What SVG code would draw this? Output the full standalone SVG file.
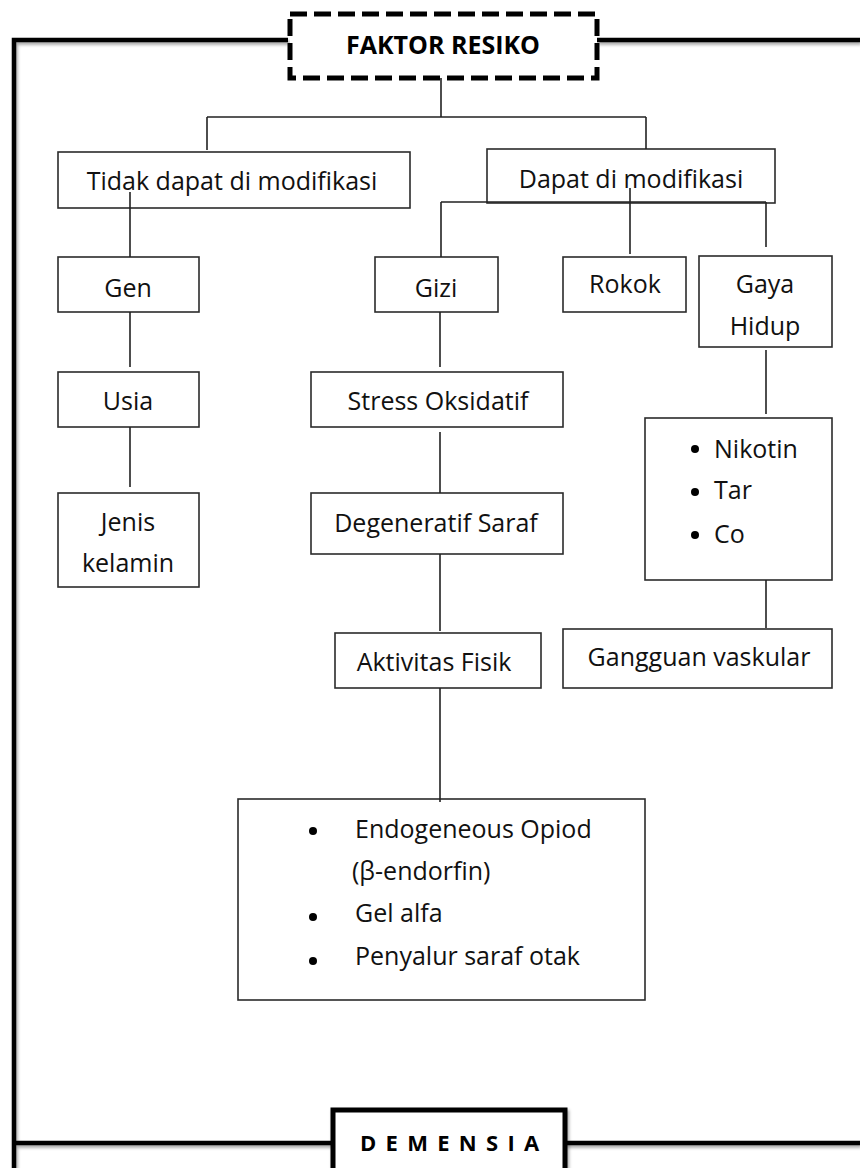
<svg xmlns="http://www.w3.org/2000/svg" width="860" height="1168" viewBox="0 0 860 1168">
<defs>
<style>
.box{fill:#fff;stroke:#2b2b2b;stroke-width:1.6}
.t{font-family:"Open Sans","Liberation Sans",sans-serif;font-size:25px;fill:#111}
.m{text-anchor:middle}
.c{stroke:#222;stroke-width:1.6;fill:none}
.frame{stroke:#000;stroke-width:4.5;fill:none}
.b{font-family:"Open Sans","Liberation Sans",sans-serif;font-weight:bold;fill:#000}
</style>
<filter id="sh" x="-5%" y="-5%" width="110%" height="110%">
<feDropShadow dx="1.5" dy="2.5" stdDeviation="1.8" flood-color="#000" flood-opacity="0.35"/>
</filter>
</defs>
<rect width="860" height="1168" fill="#fff"/>

<g id="frame" filter="url(#sh)">
<path class="frame" d="M860 40 L597 40 M288 40 L14 40 L14 1168 M14 1143 L333 1143 M565 1143 L860 1143"/>
</g>

<g id="faktor-resiko">
<rect x="290" y="14" width="307" height="64" fill="#fff" stroke="#000" stroke-width="5" stroke-dasharray="17 7"/>
<text class="b" x="443" y="54" font-size="25" text-anchor="middle">FAKTOR RESIKO</text>
</g>

<g id="demensia">
<rect x="333" y="1110" width="232" height="80" fill="#fff" stroke="#000" stroke-width="5" filter="url(#sh)"/>
<text class="b" x="360" y="1151" font-size="22" letter-spacing="9.3">DEMENSIA</text>
</g>

<g id="tidak-dapat">
<rect class="box" x="58" y="152" width="352" height="56"/>
<text class="t m" x="232" y="190">Tidak dapat di modifikasi</text>
</g>
<g id="dapat">
<rect class="box" x="487" y="149" width="288" height="54"/>
<text class="t m" x="631" y="188">Dapat di modifikasi</text>
</g>

<g id="gen">
<rect class="box" x="58" y="257" width="141" height="55"/>
<text class="t m" x="128" y="297">Gen</text>
</g>
<g id="usia">
<rect class="box" x="58" y="372" width="141" height="55"/>
<text class="t m" x="128" y="410">Usia</text>
</g>
<g id="jenis-kelamin">
<rect class="box" x="58" y="493" width="141" height="94"/>
<text class="t m" x="128" y="531">Jenis</text>
<text class="t m" x="128" y="572">kelamin</text>
</g>

<g id="gizi">
<rect class="box" x="375" y="257" width="123" height="55"/>
<text class="t m" x="436" y="297">Gizi</text>
</g>
<g id="stress">
<rect class="box" x="311" y="372" width="252" height="55"/>
<text class="t m" x="438" y="410">Stress Oksidatif</text>
</g>
<g id="degeneratif">
<rect class="box" x="311" y="493" width="252" height="61"/>
<text class="t m" x="436" y="532">Degeneratif Saraf</text>
</g>
<g id="aktivitas">
<rect class="box" x="335" y="633" width="206" height="55"/>
<text class="t m" x="434" y="671">Aktivitas Fisik</text>
</g>
<g id="endogeneous">
<rect class="box" x="238" y="799" width="407" height="201"/>
<circle cx="313" cy="831" r="4" fill="#000"/>
<text class="t" x="355" y="838">Endogeneous Opiod</text>
<text class="t" x="352" y="880">(β-endorfin)</text>
<circle cx="313" cy="917" r="4" fill="#000"/>
<text class="t" x="355" y="922">Gel alfa</text>
<circle cx="313" cy="961" r="4" fill="#000"/>
<text class="t" x="355" y="965">Penyalur saraf otak</text>
</g>

<g id="rokok">
<rect class="box" x="563" y="257" width="123" height="55"/>
<text class="t m" x="625" y="293">Rokok</text>
</g>
<g id="gaya-hidup">
<rect class="box" x="699" y="256" width="133" height="91"/>
<text class="t m" x="765" y="293">Gaya</text>
<text class="t m" x="765" y="335">Hidup</text>
</g>
<g id="nikotin">
<rect class="box" x="645" y="418" width="187" height="162"/>
<circle cx="695" cy="449" r="4" fill="#000"/>
<text class="t" x="714" y="458">Nikotin</text>
<circle cx="695" cy="492" r="4" fill="#000"/>
<text class="t" x="714" y="499">Tar</text>
<circle cx="695" cy="535" r="4" fill="#000"/>
<text class="t" x="714" y="543">Co</text>
</g>
<g id="gangguan">
<rect class="box" x="563" y="629" width="269" height="59"/>
<text class="t m" x="699" y="666">Gangguan vaskular</text>
</g>

<g id="connectors">
<path class="c" d="M441 78 V117 M207 117 H646 M207 117 V150 M646 117 V149"/>
<path class="c" d="M130 192 V257 M130 312 V367 M130 427 V487"/>
<path class="c" d="M441 202 H766 M441 202 V257 M630 188 V254 M766 202 V247"/>
<path class="c" d="M440 312 V367 M440 432 V493 M440 554 V631 M440 688 V802"/>
<path class="c" d="M766 350 V414 M766 580 V628"/>
</g>
</svg>
